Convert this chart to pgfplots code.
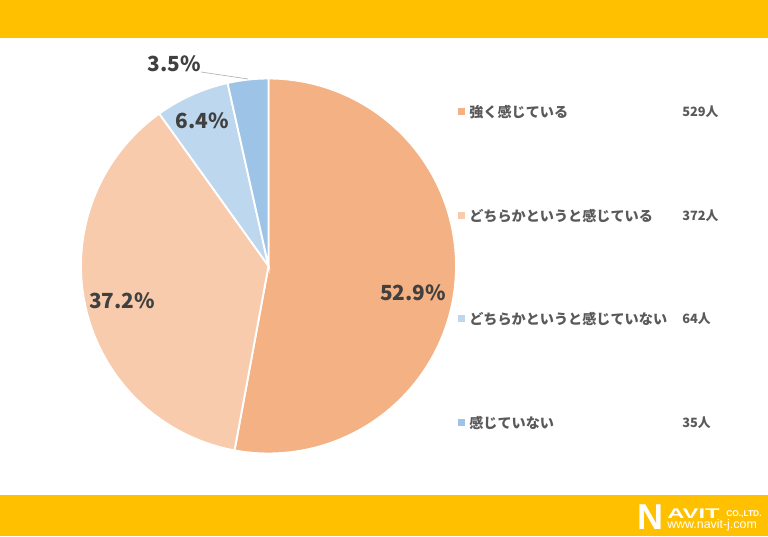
\documentclass[border=0pt]{standalone}
\usepackage{graphicx}
\usepackage{pgfplots}
\pgfplotsset{compat=1.18}
\usepackage{pgfplotstable}
\usepackage{fontspec}
\setmainfont{Noto Sans CJK JP}
\newfontfamily\logofont{Liberation Sans}
\definecolor{bandyellow}{HTML}{FFC000}
\definecolor{cA}{HTML}{F4B183}
\definecolor{cB}{HTML}{F8CBAD}
\definecolor{cC}{HTML}{BDD7EE}
\definecolor{cD}{HTML}{9DC3E6}
\definecolor{pcttext}{HTML}{404040}
\definecolor{legtext}{HTML}{595959}

\pgfplotstableread{
idx count
0 529
1 372
2 64
3 35
}\piedata
\pgfplotstablegetelem{0}{count}\of\piedata \let\vA\pgfplotsretval
\pgfplotstablegetelem{1}{count}\of\piedata \let\vB\pgfplotsretval
\pgfplotstablegetelem{2}{count}\of\piedata \let\vC\pgfplotsretval
\pgfplotstablegetelem{3}{count}\of\piedata \let\vD\pgfplotsretval
\pgfmathsetmacro{\tot}{\vA+\vB+\vC+\vD}
\pgfmathsetmacro{\aA}{90}
\pgfmathsetmacro{\aB}{\aA-360*(\vA/\tot)}
\pgfmathsetmacro{\aC}{\aB-360*(\vB/\tot)}
\pgfmathsetmacro{\aD}{\aC-360*(\vC/\tot)}
\pgfmathsetmacro{\aE}{\aD-360*(\vD/\tot)}

% pie centre and radius in pixel units
\def\cx{268.5}
\def\cy{271}
\def\rr{187.5}

\newcommand{\pieslice}[3]{%
  \addplot[fill=#1, draw=white, line width=1.4pt, domain=#3:#2, samples=120]
    ({\cx+\rr*cos(x)},{\cy+\rr*sin(x)}) -- (axis cs:\cx,\cy) -- cycle;
}
\newcommand{\legentry}[4]{%
  \node[fill=#2, minimum size=5.25pt, inner sep=0] at (axis cs:461.5,#1) {};
  \node[anchor=west, inner sep=0, text=legtext, font=\bfseries\fontsize{10.6pt}{13pt}\selectfont]
    at (axis cs:469,#1) {#3};
  \node[anchor=west, inner sep=0, text=legtext, font=\bfseries\fontsize{9.6pt}{12pt}\selectfont]
    at (axis cs:682,#1) {#4};
}

\begin{document}
\begin{tikzpicture}
\begin{axis}[
  width=576pt, height=402.75pt, scale only axis,
  xmin=0, xmax=768, ymin=0, ymax=537,
  hide axis, clip=false,
]
% decorative bands
\fill[bandyellow] (axis cs:0,537) rectangle (axis cs:768,499);
\fill[bandyellow] (axis cs:0,0.8) rectangle (axis cs:768,42);

% pie slices (clockwise from 12 o'clock)
\pieslice{cA}{\aA}{\aB}
\pieslice{cB}{\aB}{\aC}
\pieslice{cC}{\aC}{\aD}
\pieslice{cD}{\aD}{\aE}

% percentage labels
\node[anchor=base, font=\bfseries\fontsize{15.6pt}{18pt}\selectfont, text=pcttext, inner sep=0]
  at (axis cs:413,236) {52.9\%};
\node[anchor=base, font=\bfseries\fontsize{15.6pt}{18pt}\selectfont, text=pcttext, inner sep=0]
  at (axis cs:122,228) {37.2\%};
\node[anchor=base, font=\bfseries\fontsize{15.6pt}{18pt}\selectfont, text=pcttext, inner sep=0]
  at (axis cs:202.5,408) {6.4\%};
\node[anchor=base, font=\bfseries\fontsize{15.6pt}{18pt}\selectfont, text=pcttext, inner sep=0]
  at (axis cs:174.5,465) {3.5\%};
\draw[gray!60, line width=0.5pt] (axis cs:201,465) -- (axis cs:248,458);

% legend
\legentry{425}{cA}{強く感じている}{529人}
\legentry{321}{cB}{どちらかというと感じている}{372人}
\legentry{218}{cC}{どちらかというと感じていない}{64人}
\legentry{114}{cD}{感じていない}{35人}

% logo
\node[anchor=base west, inner sep=0, text=white, font=\logofont\bfseries\fontsize{27pt}{28pt}\selectfont]
  at (axis cs:637,7.5) {N};
\node[anchor=base west, inner sep=0, text=white, font=\logofont\bfseries\fontsize{10.5pt}{12pt}\selectfont]
  at (axis cs:667,19) {\scalebox{1.7}[1]{AVIT}};
\node[anchor=base west, inner sep=0, text=white, font=\logofont\bfseries\fontsize{6.3pt}{7pt}\selectfont]
  at (axis cs:726,21) {CO.,LTD.};
\node[anchor=base west, inner sep=0, text=white, font=\logofont\fontsize{9.3pt}{10pt}\selectfont]
  at (axis cs:667,8) {www.navit-j.com};
\end{axis}
\end{tikzpicture}
\end{document}
